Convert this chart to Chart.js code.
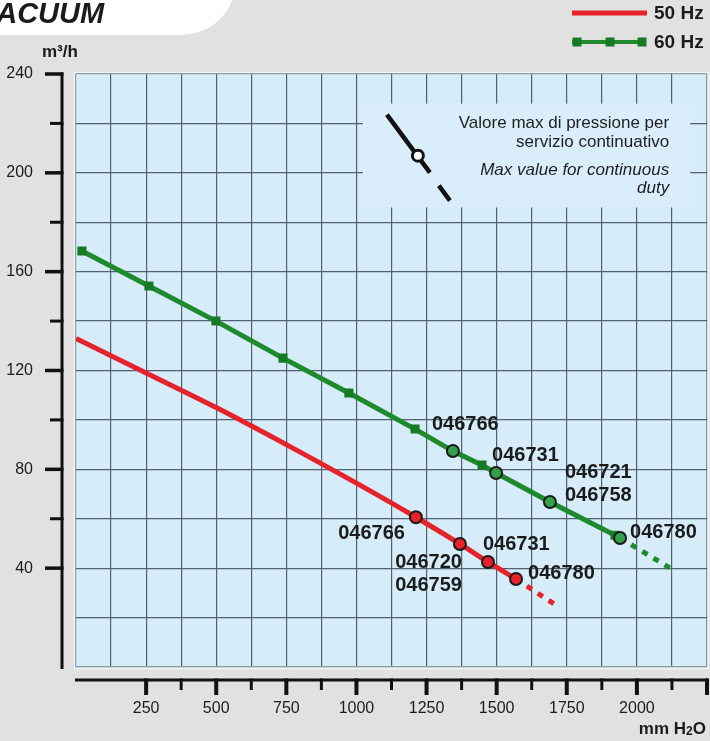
<!DOCTYPE html>
<html>
<head>
<meta charset="utf-8">
<script src="https://cdn.jsdelivr.net/npm/chart.js@4.4.1/dist/chart.umd.min.js"></script>
<style>
  html, body { margin: 0; padding: 0; background: #e1e1e1; }
  #wrap { width: 710px; height: 741px; position: relative; }
</style>
</head>
<body>
<div id="wrap"><canvas id="chart"></canvas></div>
<script>
/* data: pressure in mm H2O, flow in m3/h */
const pressure50 = [0, 250, 500, 750, 1000, 1212, 1369, 1469, 1569];
const flow50 = [133, 119, 105, 90, 74.4, 60.6, 49.8, 42.5, 35.6];
const models50 = ["", "", "", "", "", "046766", "046720\n046759", "046731", "046780"];
const limit50P = [1569, 1712];
const limit50Q = [35.6, 25];

const pressure60 = [21, 260, 499, 738, 973, 1209, 1344, 1448, 1498, 1690, 1922, 1940];
const flow60 = [168.4, 154.2, 140, 125, 110.9, 96.3, 87.4, 81.7, 78.5, 66.8, 53.3, 52.2];
const models60 = ["", "", "", "", "", "", "046766", "", "046731", "046721\n046758", "", "046780"];
const limit60P = [1940, 2129];
const limit60Q = [52.2, 39.3];

const xLabels = [250, 500, 750, 1000, 1250, 1500, 1750, 2000];
const yLabels = [40, 80, 120, 160, 200, 240];

/* where the model labels sit around their point (px offsets) */
const labelPos50 = [null, null, null, null, null,
  { dx: -11, dy: 16, align: "right" },
  { dx: 2, dy: 19, align: "right" },
  { dx: -5, dy: -18, align: "left" },
  { dx: 12, dy: -6, align: "left" }];
const labelPos60 = [null, null, null, null, null, null,
  { dx: -21, dy: -27, align: "left" }, null,
  { dx: -4, dy: -18, align: "left" },
  { dx: 15, dy: -29, align: "left" }, null,
  { dx: 10, dy: -6, align: "left" }];

const noteBox = { p0: 1023, p1: 2190, q0: 186, q1: 228 };

const RED = "#e6222a";
const GREEN = "#1e8a2d";
const GREEN_DOT = "#35a04a";
const MARK = "#177a24";
const INK = "#1b1b1b";
const FONT = '"Liberation Sans", Arial, sans-serif';

const pts = (xs, ys) => xs.map((x, i) => ({ x, y: ys[i] }));

const decor = {
  id: "decor",
  beforeDraw(chart) {
    const { ctx, chartArea: a, width, height } = chart;
    ctx.save();
    ctx.fillStyle = "#e1e1e1";
    ctx.fillRect(0, 0, width, height);
    // white title tab
    ctx.fillStyle = "#ffffff";
    ctx.beginPath();
    ctx.moveTo(0, 0);
    ctx.lineTo(232, 0);
    ctx.bezierCurveTo(226, 18, 208, 35, 178, 35);
    ctx.lineTo(0, 35);
    ctx.closePath();
    ctx.fill();
    ctx.fillStyle = INK;
    ctx.font = "italic bold 29px " + FONT;
    ctx.textBaseline = "alphabetic";
    ctx.fillText("VACUUM", -21, 23);
    // plot background
    ctx.strokeStyle = "#f3f7fa";
    ctx.lineWidth = 1.5;
    ctx.strokeRect(a.left - 1.5, a.top - 1.5, a.right - a.left + 3, a.bottom - a.top + 3);
    ctx.fillStyle = "#d6ecf9";
    ctx.fillRect(a.left, a.top, a.right - a.left, a.bottom - a.top);
    ctx.restore();
  },
  beforeDatasetsDraw(chart) {
    const { ctx, scales: { x, y } } = chart;
    const L = x.getPixelForValue(noteBox.p0), R = x.getPixelForValue(noteBox.p1);
    const T = y.getPixelForValue(noteBox.q1), B = y.getPixelForValue(noteBox.q0);
    ctx.save();
    ctx.fillStyle = "#d9eefa";
    ctx.fillRect(L, T, R - L, B - T);
    // symbol
    ctx.strokeStyle = "#111";
    ctx.lineWidth = 4.5;
    ctx.lineCap = "butt";
    ctx.beginPath();
    ctx.moveTo(L + 24, T + 11);
    ctx.lineTo(L + 67, T + 69);
    ctx.moveTo(L + 76, T + 82);
    ctx.lineTo(L + 87, T + 97);
    ctx.stroke();
    ctx.beginPath();
    ctx.arc(L + 55, T + 52, 5.5, 0, Math.PI * 2);
    ctx.fillStyle = "#fff";
    ctx.fill();
    ctx.lineWidth = 3;
    ctx.stroke();
    // text
    ctx.fillStyle = "#1e1e1e";
    ctx.textAlign = "right";
    ctx.textBaseline = "middle";
    ctx.font = "17px " + FONT;
    ctx.fillText("Valore max di pressione per", R - 21, T + 20);
    ctx.fillText("servizio continuativo", R - 21, T + 39);
    ctx.font = "italic 17px " + FONT;
    ctx.fillText("Max value for continuous", R - 21, T + 67);
    ctx.fillText("duty", R - 21, T + 85);
    ctx.restore();
  },
  afterDatasetsDraw(chart) {
    const { ctx } = chart;
    ctx.save();
    ctx.fillStyle = INK;
    ctx.font = "bold 20px " + FONT;
    ctx.textBaseline = "middle";
    const put = (dsIndex, names, layout) => {
      const meta = chart.getDatasetMeta(dsIndex);
      names.forEach((txt, i) => {
        if (!txt) return;
        const p = meta.data[i], l = layout[i];
        ctx.textAlign = l.align;
        txt.split("\n").forEach((line, k) => {
          ctx.fillText(line, p.x + l.dx, p.y + l.dy + k * 23);
        });
      });
    };
    put(0, models50, labelPos50);
    put(2, models60, labelPos60);
    ctx.restore();
  },
  afterDraw(chart) {
    const { ctx, chartArea: a, scales: { x, y } } = chart;
    ctx.save();
    ctx.strokeStyle = "#111";
    ctx.lineCap = "butt";
    // y axis
    const ax = 62;
    ctx.lineWidth = 3;
    ctx.beginPath();
    ctx.moveTo(ax, a.top - 1.5);
    ctx.lineTo(ax, a.bottom + 2);
    ctx.stroke();
    y.ticks.forEach(t => {
      if (t.value < 40) return;
      const py = y.getPixelForValue(t.value);
      const major = t.value % 40 === 0;
      ctx.lineWidth = major ? 3.5 : 3;
      ctx.beginPath();
      ctx.moveTo(ax - (major ? 17 : 12), py);
      ctx.lineTo(ax + 1.5, py);
      ctx.stroke();
    });
    // x axis
    const ay = 680;
    ctx.lineWidth = 3;
    ctx.beginPath();
    ctx.moveTo(a.left - 1, ay);
    ctx.lineTo(a.right + 1.5, ay);
    ctx.stroke();
    x.ticks.forEach(t => {
      if (t.value < 250) return;
      const px = x.getPixelForValue(t.value);
      const major = t.value % 250 === 0;
      ctx.lineWidth = major ? 4 : 3;
      ctx.beginPath();
      ctx.moveTo(px, ay - 1.5);
      ctx.lineTo(px, ay + (major ? 15 : 10));
      ctx.stroke();
    });
    // unit labels
    ctx.fillStyle = INK;
    ctx.textBaseline = "middle";
    ctx.textAlign = "left";
    ctx.font = "bold 17px " + FONT;
    ctx.fillText("m³/h", 42, 52);
    ctx.textAlign = "right";
    ctx.textBaseline = "alphabetic";
    ctx.fillText("O", 706, 734);
    const wO = ctx.measureText("O").width;
    ctx.font = "bold 12px " + FONT;
    ctx.fillText("2", 706 - wO, 735);
    const w2 = ctx.measureText("2").width;
    ctx.font = "bold 17px " + FONT;
    ctx.fillText("mm H", 706 - wO - w2, 734);
    // legend
    ctx.lineWidth = 5;
    ctx.strokeStyle = RED;
    ctx.beginPath();
    ctx.moveTo(572, 13);
    ctx.lineTo(647, 13);
    ctx.stroke();
    ctx.strokeStyle = GREEN;
    ctx.lineWidth = 4;
    ctx.beginPath();
    ctx.moveTo(572, 42);
    ctx.lineTo(646, 42);
    ctx.stroke();
    ctx.fillStyle = MARK;
    [577, 610, 642].forEach(mx => ctx.fillRect(mx - 4.5, 37.5, 9, 9));
    ctx.fillStyle = INK;
    ctx.textAlign = "left";
    ctx.textBaseline = "middle";
    ctx.font = "bold 19px " + FONT;
    ctx.fillText("50 Hz", 654, 14);
    ctx.fillText("60 Hz", 654, 43);
    ctx.restore();
  },
};

Chart.register(decor);

new Chart(document.getElementById("chart"), {
  type: "line",
  data: {
    datasets: [
      {
        label: "50 Hz",
        data: pts(pressure50, flow50),
        borderColor: RED,
        borderWidth: 5,
        cubicInterpolationMode: "monotone",
        pointRadius: ctx => (models50[ctx.dataIndex] ? 6 : 0),
        pointBackgroundColor: RED,
        pointBorderColor: "#1a1a1a",
        pointBorderWidth: 2,
        order: 1,
      },
      {
        label: "50 Hz limit",
        data: pts(limit50P, limit50Q),
        borderColor: RED,
        borderWidth: 5,
        borderDash: [6, 7],
        pointRadius: 0,
        order: 3,
      },
      {
        label: "60 Hz",
        data: pts(pressure60, flow60),
        borderColor: GREEN,
        borderWidth: 5,
        pointStyle: ctx => (models60[ctx.dataIndex] ? "circle" : "rect"),
        pointRadius: ctx => (models60[ctx.dataIndex] ? 6 : 5),
        pointBackgroundColor: ctx => (models60[ctx.dataIndex] ? GREEN_DOT : MARK),
        pointBorderColor: ctx => (models60[ctx.dataIndex] ? "#1a1a1a" : MARK),
        pointBorderWidth: 2,
        order: 0,
      },
      {
        label: "60 Hz limit",
        data: pts(limit60P, limit60Q),
        borderColor: GREEN,
        borderWidth: 5,
        borderDash: [6, 7],
        pointRadius: 0,
        order: 2,
      },
    ],
  },
  options: {
    responsive: true,
    maintainAspectRatio: false,
    animation: false,
    devicePixelRatio: 1,
    layout: { autoPadding: false, padding: { top: 74, right: 3, left: 0, bottom: 0 } },
    plugins: { legend: { display: false }, tooltip: { enabled: false } },
    elements: { line: { tension: 0, fill: false } },
    scales: {
      x: {
        type: "linear",
        min: 0,
        max: 2250,
        afterFit: s => {
          s.height = 74;
          s.paddingLeft = 0;
          s.paddingRight = 0;
        },
        ticks: {
          stepSize: 125,
          autoSkip: false,
          maxRotation: 0,
          padding: 32,
          color: INK,
          font: { family: FONT, size: 16 },
          callback: v => (xLabels.includes(v) ? String(v) : ""),
        },
        grid: {
          drawTicks: false,
          color: c => (c.index === 0 || c.index === 18 ? "#8d9aa4" : "#526170"),
          lineWidth: 1.2,
        },
        border: { display: false },
      },
      y: {
        min: 0,
        max: 240,
        afterFit: s => {
          s.width = 76;
          s.paddingTop = 0;
          s.paddingBottom = 0;
        },
        ticks: {
          stepSize: 20,
          autoSkip: false,
          padding: 43,
          color: INK,
          font: { family: FONT, size: 16 },
          callback: v => (yLabels.includes(v) ? String(v) : ""),
        },
        grid: {
          drawTicks: false,
          color: c => (c.index === 0 || c.index === 12 ? "#8d9aa4" : "#526170"),
          lineWidth: 1.2,
        },
        border: { display: false },
      },
    },
  },
});
</script>
</body>
</html>
